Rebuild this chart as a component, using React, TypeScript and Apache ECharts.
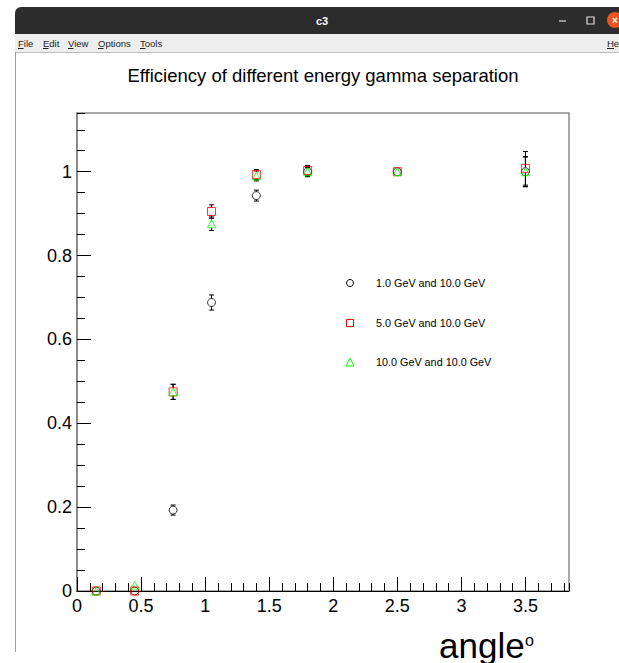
import React, { useEffect, useRef } from "react";
import * as echarts from "echarts";

const angles = [0.15, 0.45, 0.75, 1.05, 1.4, 1.8, 2.5, 3.5];
const eff1 = [0, 0, 0.193, 0.688, 0.943, 1.0, 1.0, 1.0];
const err1 = [0.004, 0.004, 0.012, 0.018, 0.013, 0.01, 0.008, 0.036];
const eff5 = [0, 0, 0.475, 0.905, 0.993, 1.003, 1.0, 1.008];
const err5 = [0.004, 0.004, 0.018, 0.016, 0.012, 0.012, 0.009, 0.04];
const eff10 = [0, 0.014, 0.475, 0.876, 0.99, 1.0, 1.0, 1.0];
const err10 = [0.004, 0.006, 0.018, 0.016, 0.012, 0.012, 0.009, 0.035];
const seriesNames = ["1.0 GeV and 10.0 GeV", "5.0 GeV and 10.0 GeV", "10.0 GeV and 10.0 GeV"];
const titleText = "Efficiency of different energy gamma separation";
const menuItems = ["File", "Edit", "View", "Options", "Tools"];

const FONT = "Liberation Sans, Arial, Helvetica, sans-serif";

export default function App() {
  const ref = useRef<HTMLDivElement>(null);
  useEffect(() => {
    if (!ref.current) return;
    const chart = echarts.init(ref.current, null, { renderer: "svg" });

    const errData = (ys: number[], es: number[]) => angles.map((x, i) => [x, ys[i], es[i]]);
    const ptData = (ys: number[]) => angles.map((x, i) => [x, ys[i]]);

    const errSeries = (name: string, ys: number[], es: number[], half: number) => ({
      type: "custom",
      name: name + " err",
      xAxisIndex: 0,
      yAxisIndex: 0,
      silent: true,
      z: 3,
      data: errData(ys, es),
      renderItem: (params: any, api: any) => {
        const x = api.value(0), y = api.value(1), e = api.value(2);
        const c = api.coord([x, y]);
        const t = api.coord([x, y + e]);
        const b = api.coord([x, Math.max(0, y - e)]);
        const cap = 2.5;
        const st = { stroke: "#000", lineWidth: 1 };
        const children: any[] = [];
        if (c[1] - t[1] > half) {
          children.push({ type: "line", shape: { x1: c[0], y1: c[1] - half, x2: c[0], y2: t[1] }, style: st });
          children.push({ type: "line", shape: { x1: c[0] - cap, y1: t[1], x2: c[0] + cap, y2: t[1] }, style: st });
        }
        if (b[1] - c[1] > half) {
          children.push({ type: "line", shape: { x1: c[0], y1: c[1] + half, x2: c[0], y2: b[1] }, style: st });
          children.push({ type: "line", shape: { x1: c[0] - cap, y1: b[1], x2: c[0] + cap, y2: b[1] }, style: st });
        }
        return { type: "group", children };
      },
    });

    const axisLabelStyle = { color: "#000", fontFamily: FONT, fontSize: 18 };

    const graphics: any[] = [
      // window title bar
      { type: "rect", shape: { x: 15, y: 7, width: 620, height: 27, r: [6, 0, 0, 0] }, style: { fill: "#2c2c2c" }, z: -10 },
      { type: "text", style: { x: 322, y: 21, text: "c3", fill: "#ffffff", font: "bold 11px " + FONT, align: "center", verticalAlign: "middle" } },
      { type: "line", shape: { x1: 559, y1: 21, x2: 566, y2: 21 }, style: { stroke: "#dddddd", lineWidth: 1.2 } },
      { type: "rect", shape: { x: 587, y: 17, width: 7, height: 7 }, style: { fill: "none", stroke: "#dddddd", lineWidth: 1.2 } },
      { type: "circle", shape: { cx: 615, cy: 20, r: 8 }, style: { fill: "#e95420" } },
      { type: "text", style: { x: 615, y: 20, text: "×", fill: "#ffffff", font: "bold 10px " + FONT, align: "center", verticalAlign: "middle" } },
      // menu bar
      { type: "rect", shape: { x: 15, y: 34, width: 610, height: 18 }, style: { fill: "#eeeeee" }, z: -10 },
      { type: "line", shape: { x1: 15, y1: 52.5, x2: 619, y2: 52.5 }, style: { stroke: "#bdbdbd", lineWidth: 1 } },
      { type: "line", shape: { x1: 15.5, y1: 52, x2: 15.5, y2: 652 }, style: { stroke: "#a0a0a0", lineWidth: 1 } },
      // title
      { type: "text", style: { x: 323, y: 75, text: titleText, fill: "#000", font: "18.5px " + FONT, align: "center", verticalAlign: "middle" } },
      // axis title
      { type: "text", style: { x: 439, y: 645, text: "angle", fill: "#000", font: "35px " + FONT, align: "left", verticalAlign: "middle" } },
      { type: "text", style: { x: 525, y: 640, text: "o", fill: "#000", font: "16px " + FONT, align: "left", verticalAlign: "middle" } },
      // legend
      { type: "circle", shape: { cx: 350, cy: 283, r: 3.5 }, style: { fill: "none", stroke: "#000", lineWidth: 1 } },
      { type: "rect", shape: { x: 346.5, y: 319.5, width: 7, height: 7 }, style: { fill: "none", stroke: "#ff0000", lineWidth: 1 } },
      { type: "polygon", shape: { points: [[350, 358], [346, 366], [354, 366]] }, style: { fill: "none", stroke: "#00ff00", lineWidth: 1 } },
      { type: "text", style: { x: 376, y: 283, text: seriesNames[0], fill: "#000", font: "10.8px " + FONT, verticalAlign: "middle" } },
      { type: "text", style: { x: 376, y: 323, text: seriesNames[1], fill: "#000", font: "10.8px " + FONT, verticalAlign: "middle" } },
      { type: "text", style: { x: 376, y: 362, text: seriesNames[2], fill: "#000", font: "10.8px " + FONT, verticalAlign: "middle" } },
    ];
    const menuX = [18, 43, 68, 98, 140];
    menuItems.forEach((m, i) => {
      graphics.push({ type: "text", style: { x: menuX[i], y: 43, text: m, fill: "#222", font: "9.5px " + FONT, verticalAlign: "middle" } });
      graphics.push({ type: "line", shape: { x1: menuX[i], y1: 48.5, x2: menuX[i] + 5.5, y2: 48.5 }, style: { stroke: "#222", lineWidth: 1 } });
    });
    graphics.push({ type: "text", style: { x: 607, y: 43, text: "He", fill: "#222", font: "9.5px " + FONT, verticalAlign: "middle" } });
    graphics.push({ type: "line", shape: { x1: 607, y1: 48.5, x2: 614, y2: 48.5 }, style: { stroke: "#222", lineWidth: 1 } });

    chart.setOption({
      animation: false,
      backgroundColor: "#ffffff",
      grid: { left: 77, right: 50, top: 113, bottom: 72, show: true, borderColor: "#8c8c8c", borderWidth: 1.5, backgroundColor: "transparent" },
      xAxis: [
        {
          type: "value", min: 0, max: 3.84, interval: 0.5, position: "bottom",
          axisLine: { show: true, lineStyle: { color: "#000", width: 1 } },
          axisTick: { show: true, inside: true, length: 14, lineStyle: { color: "#000" } },
          axisLabel: { ...axisLabelStyle, margin: 6, showMaxLabel: false },
          splitLine: { show: false },
        },
        {
          type: "value", min: 0, max: 3.84, interval: 0.1, position: "bottom",
          axisLine: { show: false },
          axisTick: { show: true, inside: true, length: 8, lineStyle: { color: "#000" } },
          axisLabel: { show: false },
          splitLine: { show: false },
        },
      ],
      yAxis: [
        {
          type: "value", min: 0, max: 1.14, interval: 0.2, position: "left",
          axisLine: { show: true, lineStyle: { color: "#8c8c8c", width: 2 } },
          axisTick: { show: true, inside: true, length: 14, lineStyle: { color: "#000" } },
          axisLabel: { ...axisLabelStyle, margin: 5, showMaxLabel: false },
          splitLine: { show: false },
        },
        {
          type: "value", min: 0, max: 1.14, interval: 0.05, position: "left",
          axisLine: { show: false },
          axisTick: { show: true, inside: true, length: 8, lineStyle: { color: "#000" } },
          axisLabel: { show: false },
          splitLine: { show: false },
        },
      ],
      graphic: graphics,
      series: [
        errSeries(seriesNames[0], eff1, err1, 4),
        errSeries(seriesNames[1], eff5, err5, 4),
        errSeries(seriesNames[2], eff10, err10, 4),
        {
          type: "scatter", name: seriesNames[0], xAxisIndex: 0, yAxisIndex: 0, z: 4,
          symbol: "circle", symbolSize: 8,
          itemStyle: { color: "transparent", borderColor: "#000", borderWidth: 1 },
          data: ptData(eff1),
        },
        {
          type: "scatter", name: seriesNames[1], xAxisIndex: 0, yAxisIndex: 0, z: 4,
          symbol: "rect", symbolSize: 8,
          itemStyle: { color: "transparent", borderColor: "#ff0000", borderWidth: 1 },
          data: ptData(eff5),
        },
        {
          type: "scatter", name: seriesNames[2], xAxisIndex: 0, yAxisIndex: 0, z: 4,
          symbol: "triangle", symbolSize: 8,
          itemStyle: { color: "transparent", borderColor: "#00ff00", borderWidth: 1 },
          data: ptData(eff10),
        },
      ],
    });
    return () => chart.dispose();
  }, []);
  return <div ref={ref} style={{ position: "absolute", left: 0, top: 0, width: 619, height: 663 }} />;
}
